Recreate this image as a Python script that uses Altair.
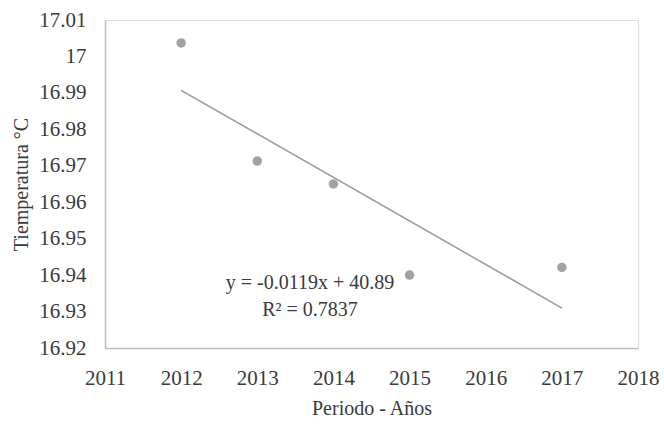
import altair as alt
import pandas as pd

# Annual mean temperature by year
years = [2012, 2013, 2014, 2015, 2017]
temps = [17.0037, 16.9713, 16.9650, 16.9400, 16.9421]

# Trend line annotation
eq_lines = ["y = -0.0119x + 40.89", "R² = 0.7837"]

df = pd.DataFrame({"anio": years, "temp": temps})

FONT = "Liberation Serif"
TEXT = "#3a3a3a"

x_enc = alt.X(
    "anio:Q",
    scale=alt.Scale(domain=[2011, 2018], nice=False, zero=False),
    axis=alt.Axis(
        values=list(range(2011, 2019)),
        format="d",
        title="Periodo - Años",
        labelPadding=19,
        titlePadding=10,
    ),
)

y_enc = alt.Y(
    "temp:Q",
    scale=alt.Scale(domain=[16.92, 17.01], nice=False, zero=False),
    axis=alt.Axis(
        values=[16.92, 16.93, 16.94, 16.95, 16.96, 16.97, 16.98, 16.99, 17.0, 17.01],
        format="~g",
        title="Tiemperatura °C",
        labelPadding=19,
        titlePadding=7,
    ),
)

base = alt.Chart(df).encode(x=x_enc, y=y_enc)

points = base.mark_circle(size=90, color="#a3a3a3", opacity=1)

trend = base.transform_regression("anio", "temp", method="linear").mark_line(
    color="#9a9a9a", strokeWidth=1.5
)

eq = alt.Chart(pd.DataFrame({"t": [eq_lines[0]]})).mark_text(
    font=FONT, fontSize=20, color=TEXT, align="center", baseline="middle"
).encode(text="t:N", x=alt.value(205), y=alt.value(263))

r2 = alt.Chart(pd.DataFrame({"t": [eq_lines[1]]})).mark_text(
    font=FONT, fontSize=20, color=TEXT, align="center", baseline="middle"
).encode(text="t:N", x=alt.value(205), y=alt.value(290))

chart = (
    alt.layer(points, trend, eq, r2)
    .properties(
        width=533,
        height=328,
        autosize=alt.AutoSizeParams(type="none"),
        padding={"left": 105, "top": 20, "right": 26, "bottom": 81},
    )
    .configure_view(stroke=None)
    .configure(background="white")
    .configure_axis(
        grid=False,
        ticks=False,
        domainColor="#bdbdbd",
        domainWidth=1.5,
        labelFont=FONT,
        labelFontSize=21,
        labelColor=TEXT,
        labelOverlap=False,
        labelFlush=False,
        labelBound=False,
        titleFont=FONT,
        titleFontSize=20,
        titleFontWeight="normal",
        titleColor=TEXT,
    )
)

chart.save("out.html", embed_options={"renderer": "svg", "actions": False})
